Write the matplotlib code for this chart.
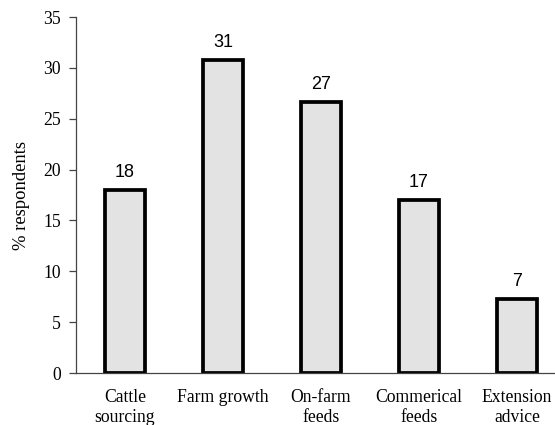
import matplotlib
matplotlib.use("Agg")
import matplotlib.pyplot as plt

# survey results: share of respondents per constraint
categories = ["Cattle\nsourcing", "Farm growth", "On-farm\nfeeds", "Commerical\nfeeds", "Extension\nadvice"]
values = [18.0, 30.8, 26.6, 17.0, 7.3]

serif = "Liberation Serif"
sans = "Liberation Sans"

fig = plt.figure(figsize=(5.55, 4.25), dpi=100)
# axes runs past the right edge of the figure, as in the original layout
ax = fig.add_axes([76 / 555, 52 / 425, 490 / 555, 356 / 425])

x = range(len(categories))
bars = ax.bar(x, values, width=0.41, color="#e3e3e3", edgecolor="black", linewidth=2.7)

for rect, v in zip(bars, values):
    ax.annotate(f"{v:.0f}", (rect.get_x() + rect.get_width() / 2, rect.get_height()),
                xytext=(0, 6.5), textcoords="offset points", ha="center", va="bottom",
                fontsize=13, family=sans)

ax.set_xlim(-0.5, 4.5)
ax.set_ylim(0, 35)
ax.set_yticks(range(0, 36, 5))
ax.set_xticks(list(x))
ax.set_xticklabels(categories, family=serif, fontsize=12.7, linespacing=1.2)
for lab in ax.get_yticklabels():
    lab.set_family(serif)
    lab.set_fontsize(12.7)

ax.tick_params(axis="x", length=0, pad=11.5)
ax.tick_params(axis="y", length=5, width=0.9, color="#444444", pad=6)
ax.spines["top"].set_visible(False)
ax.spines["right"].set_visible(False)
ax.spines["left"].set_color("#444444")
ax.spines["bottom"].set_color("#444444")
ax.spines["left"].set_linewidth(0.9)
ax.spines["bottom"].set_linewidth(0.9)

ax.set_ylabel("% respondents", family=serif, fontsize=13.4)
ax.yaxis.set_label_coords(-0.093, 0.5)

fig.savefig("out.png", dpi=100)
